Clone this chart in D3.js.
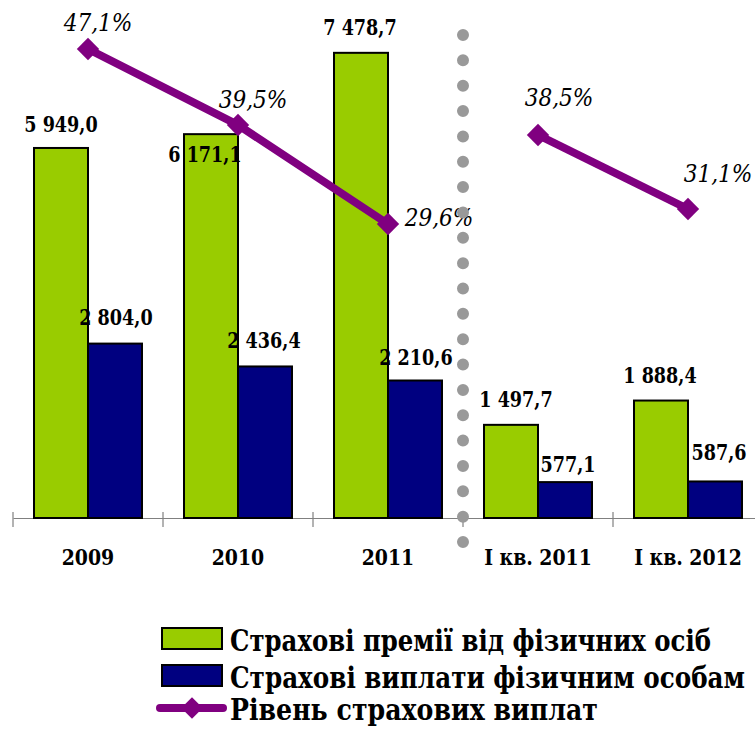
<!DOCTYPE html>
<html lang="uk">
<head>
<meta charset="UTF-8">
<title>Страхові премії та виплати</title>
<style>
  body { margin: 0; background: #fff; }
  svg { display: block; }
  svg text { fill: #000; }
  .val { font-family: "DejaVu Serif"; font-size: 22px; font-weight: bold; text-anchor: middle; }
  .pct { font-family: "DejaVu Serif"; font-size: 24px; font-style: italic; text-anchor: middle; }
  .cat { font-family: "DejaVu Serif"; font-size: 23px; font-weight: bold; text-anchor: middle; }
  .leg { font-family: "DejaVu Serif"; font-size: 29px; font-weight: bold; }
</style>
</head>
<body>
<svg id="chart" width="755" height="729"></svg>
<script src="https://d3js.org/d3.v7.min.js"></script>
<script>
// дані
const categories = ["2009", "2010", "2011", "I кв. 2011", "I кв. 2012"];
const premiums = [5949.0, 6171.1, 7478.7, 1497.7, 1888.4];
const payouts = [2804.0, 2436.4, 2210.6, 577.1, 587.6];
const payoutRate = [47.1, 39.5, 29.6, 38.5, 31.1];
const seriesNames = ["Страхові премії від фізичних осіб", "Страхові виплати фізичним особам", "Рівень страхових виплат"];
// лінія розривається між роками і кварталами
const lineSegments = [[0, 3], [3, 5]];

// зсуви підписів (як їх розставив Excel)
const premLabelOff = [[0, -16], [-6, 28], [-1, -18], [5, -18], [-1, -18]];
const payLabelOff = [[1, -19], [-1, -18], [1, -16], [3, -10], [4, -21]];
const pctLabelOff = [[10, -18], [15, -17], [51, 2], [21, -29], [30, -27]];

const colors = { prem: "#99cc00", pay: "#000080", line: "#800080", dots: "#999999" };

const uaLocale = d3.formatLocale({ decimal: ",", thousands: " ", grouping: [3], currency: ["", ""] });
const fmtVal = uaLocale.format(",.1f");
const fmtPct = v => uaLocale.format(".1f")(v) + "%";

// DejaVu Serif ширший за Times, тому трохи стискаємо текст
function squeeze(sel, k) {
  sel.each(function () {
    const w = this.getComputedTextLength();
    d3.select(this).attr("textLength", w * k).attr("lengthAdjust", "spacingAndGlyphs");
  });
}

const svg = d3.select("#chart");
const baseY = 518;

const x0 = d3.scaleBand().domain(categories).range([13, 763]).padding(0);
const x1 = d3.scaleBand().domain(["prem", "pay"]).range([0, x0.bandwidth()])
    .paddingInner(0).paddingOuter(0.389);
const y = d3.scaleLinear().domain([0, 8000]).range([baseY, 20.4]);
const y2 = d3.scaleLinear().domain([0, 50]).range([520, 20]);

const rows = categories.map((c, i) => ({ c, i, prem: premiums[i], pay: payouts[i], rate: payoutRate[i] }));

// вісь
const axis = d3.axisBottom(x0).tickSize(0).tickFormat("");
const gAxis = svg.append("g").attr("transform", `translate(0,${baseY})`).call(axis);
gAxis.select(".domain").attr("stroke", "#808080").attr("stroke-width", 1.2);
const bounds = categories.map(c => x0(c)).concat([x0.range()[1]]);
svg.append("g").selectAll("line").data(bounds).join("line")
    .attr("x1", d => d).attr("x2", d => d)
    .attr("y1", baseY - 6).attr("y2", baseY + 9)
    .attr("stroke", "#808080").attr("stroke-width", 1.2);

// стовпці
const groups = svg.append("g").selectAll("g").data(rows).join("g")
    .attr("transform", d => `translate(${x0(d.c)},0)`);

groups.append("rect")
    .attr("x", x1("prem")).attr("width", x1.bandwidth())
    .attr("y", d => y(d.prem)).attr("height", d => baseY - y(d.prem))
    .attr("fill", colors.prem).attr("stroke", "#000").attr("stroke-width", 2);

groups.append("rect")
    .attr("x", x1("pay")).attr("width", x1.bandwidth())
    .attr("y", d => y(d.pay)).attr("height", d => baseY - y(d.pay))
    .attr("fill", colors.pay).attr("stroke", "#000").attr("stroke-width", 2);

// підписи стовпців
groups.append("text").attr("class", "val")
    .attr("x", d => x1("prem") + x1.bandwidth() / 2 + premLabelOff[d.i][0])
    .attr("y", d => y(d.prem) + premLabelOff[d.i][1])
    .text(d => fmtVal(d.prem))
    .call(squeeze, 0.8);

groups.append("text").attr("class", "val")
    .attr("x", d => x1("pay") + x1.bandwidth() / 2 + payLabelOff[d.i][0])
    .attr("y", d => y(d.pay) + payLabelOff[d.i][1])
    .text(d => fmtVal(d.pay))
    .call(squeeze, 0.8);

// лінія рівня виплат
const cx = d => x0(d.c) + x0.bandwidth() / 2;
const line = d3.line().x(cx).y(d => y2(d.rate));
svg.append("g").selectAll("path").data(lineSegments).join("path")
    .attr("d", s => line(rows.slice(s[0], s[1])))
    .attr("fill", "none").attr("stroke", colors.line).attr("stroke-width", 8);

const diamond = d3.symbol(d3.symbolSquare, 250);
svg.append("g").selectAll("path").data(rows).join("path")
    .attr("d", diamond)
    .attr("transform", d => `translate(${cx(d)},${y2(d.rate)}) rotate(45)`)
    .attr("fill", colors.line);

svg.append("g").selectAll("text").data(rows).join("text")
    .attr("class", "pct")
    .attr("x", d => cx(d) + pctLabelOff[d.i][0])
    .attr("y", d => y2(d.rate) + pctLabelOff[d.i][1])
    .text(d => fmtPct(d.rate))
    .call(squeeze, 0.9);

// пунктирний роздільник
const sepX = x0(categories[3]);
svg.append("line")
    .attr("x1", sepX).attr("x2", sepX).attr("y1", 35).attr("y2", 548)
    .attr("stroke", colors.dots).attr("stroke-width", 12)
    .attr("stroke-linecap", "round").attr("stroke-dasharray", "0 25.35");

// підписи категорій
svg.append("g").selectAll("text").data(categories).join("text")
    .attr("class", "cat")
    .attr("x", c => x0(c) + x0.bandwidth() / 2)
    .attr("y", 565)
    .text(c => c)
    .call(squeeze, 0.82);

// легенда
const leg = svg.append("g");
const legY = [638.5, 675.5, 708];
const legW = [481, 515, 368];
leg.append("rect").attr("x", 162).attr("y", legY[0] - 10.5).attr("width", 60).attr("height", 21)
    .attr("fill", colors.prem).attr("stroke", "#000").attr("stroke-width", 2);
leg.append("rect").attr("x", 162).attr("y", legY[1] - 10.5).attr("width", 60).attr("height", 21)
    .attr("fill", colors.pay).attr("stroke", "#000").attr("stroke-width", 2);
leg.append("line").attr("x1", 160).attr("x2", 223).attr("y1", legY[2]).attr("y2", legY[2])
    .attr("stroke", colors.line).attr("stroke-width", 8).attr("stroke-linecap", "round");
leg.append("path").attr("d", d3.symbol(d3.symbolSquare, 230))
    .attr("transform", `translate(192,${legY[2]}) rotate(45)`).attr("fill", colors.line);
leg.selectAll("text").data(seriesNames).join("text")
    .attr("class", "leg")
    .attr("x", 230)
    .attr("y", (d, i) => legY[i] + 12)
    .attr("textLength", (d, i) => legW[i])
    .attr("lengthAdjust", "spacingAndGlyphs")
    .text(d => d);
</script>
</body>
</html>
